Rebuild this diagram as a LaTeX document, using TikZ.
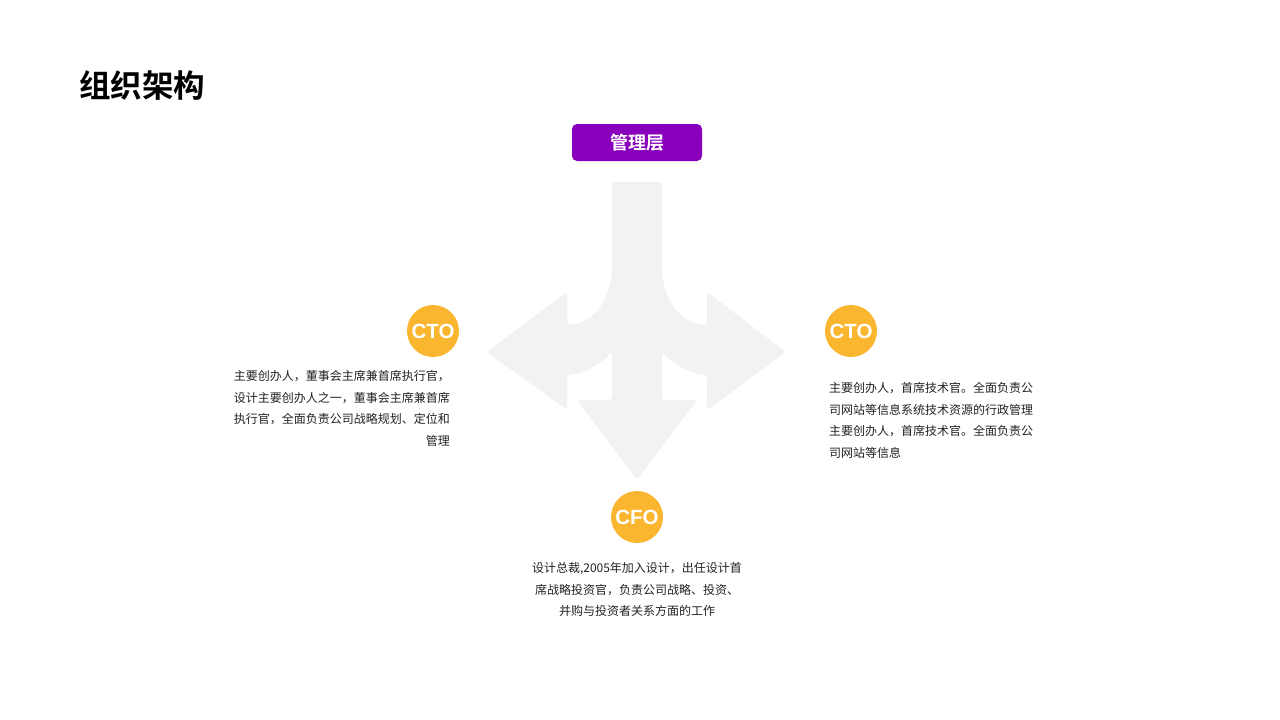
\documentclass[tikz,border=0pt]{standalone}
\usepackage{fontspec}
\setmainfont{Liberation Sans}
\newfontfamily\cjk{Noto Sans CJK SC}
\newfontfamily\cjkbold{Noto Sans CJK SC Bold}
\usetikzlibrary{positioning}
\definecolor{mgmtpurple}{RGB}{136,0,187}
\definecolor{badgeorange}{RGB}{251,182,48}
\definecolor{arrowgray}{RGB}{242,242,242}
\definecolor{bodytext}{RGB}{34,34,34}

\begin{document}
\begin{tikzpicture}[
    x=1pt, y=-1pt,
    badge/.style={circle, fill=badgeorange, minimum size=52pt, inner sep=0pt, text=white, font=\fontsize{20.5}{20}\selectfont\bfseries},
    desc/.style={inner sep=0pt, text=bodytext, font=\cjk\fontsize{12}{21.7}\selectfont},
    mgmtbox/.style={rectangle, rounded corners=5pt, fill=mgmtpurple, minimum width=130pt, minimum height=37pt, text=white, font=\cjkbold\fontsize{18}{18}\selectfont}
  ]
    \useasboundingbox[fill=white] (0,0) rectangle (1280,720);

    % three-way arrow
    \fill[arrowgray, rounded corners=3pt] (612,182) -- (612,262)
      .. controls (612,300) and (594,323) .. (567,325)
      -- (567,292) -- (487,352) -- (567,410) -- (567,375)
      .. controls (584,374) and (600,364) .. (612,352)
      -- (612,400) -- (577,400) -- (637,480) -- (697,400) -- (662,400) -- (662,352)
      .. controls (674,364) and (690,374) .. (707,375)
      -- (707,410) -- (786,352) -- (707,292) -- (707,325)
      .. controls (680,323) and (662,300) .. (662,262)
      -- (662,182) -- cycle;

    \node[anchor=west, inner sep=0pt, font=\cjkbold\fontsize{31.5}{31.5}\selectfont] (title) at (79,85) {组织架构};
    \node[mgmtbox] (mgmt) at (637,142.5) {管理层};

    \node[badge] (ctoL) at (433,331) {CTO};
    \node[badge] (ctoR) at (851,331) {CTO};
    \node[badge] (cfo) at (637,517) {CFO};

    \node[desc, anchor=east, align=right] (ctoLtxt) at (450,408.5)
      {主要创办人，董事会主席兼首席执行官，\\设计主要创办人之一，董事会主席兼首席\\执行官，全面负责公司战略规划、定位和\\管理};
    \node[desc, anchor=west, align=left] (ctoRtxt) at (829,420.5)
      {主要创办人，首席技术官。全面负责公\\司网站等信息系统技术资源的行政管理\\主要创办人，首席技术官。全面负责公\\司网站等信息};
    \node[desc, align=center] (cfotxt) at (637,589.5)
      {设计总裁,2005年加入设计，出任设计首\\席战略投资官，负责公司战略、投资、\\并购与投资者关系方面的工作};
  \end{tikzpicture}
\end{document}
